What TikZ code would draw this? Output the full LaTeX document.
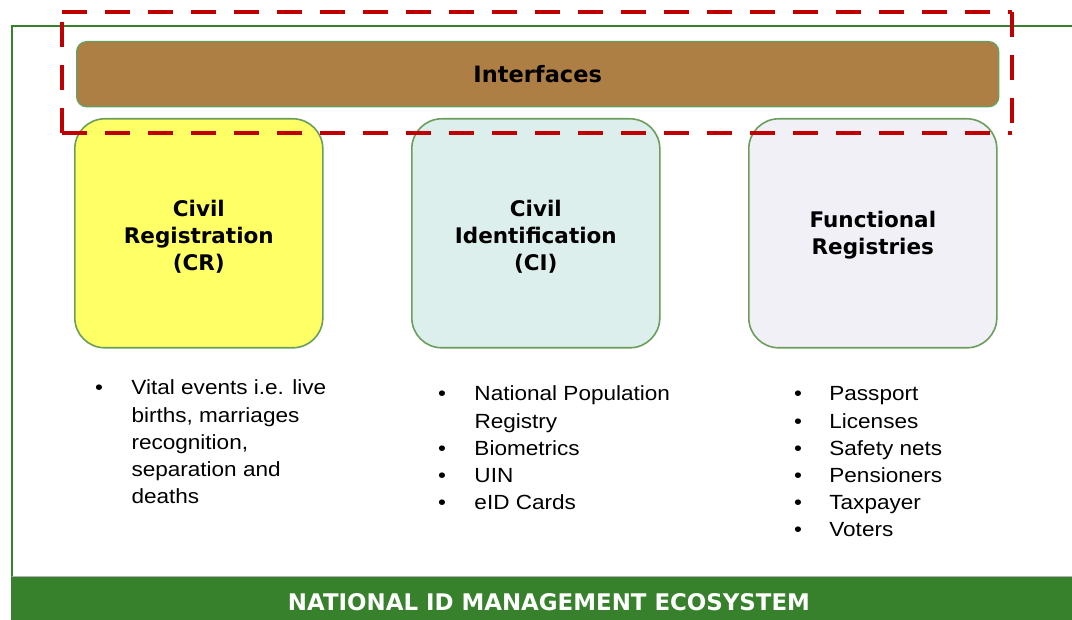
\documentclass[tikz,border=0pt]{standalone}
\usepackage{fontspec}
\setmainfont{Liberation Sans}
\newfontfamily\headfont{DejaVu Sans}
\usepackage{array}
\definecolor{framegreen}{HTML}{38812C}
\definecolor{barbrown}{HTML}{AD7F45}
\definecolor{boxedge}{HTML}{6B9E5D}
\definecolor{dashred}{HTML}{C00000}
\definecolor{crfill}{HTML}{FFFF66}
\definecolor{cifill}{HTML}{DDEFEC}
\definecolor{frfill}{HTML}{F2F0F7}
\newcommand{\bulletlist}[2]{\scalebox{1.1}[1]{\fontsize{20.5}{27.2}\selectfont\begin{tabular}[t]{@{}p{#1}@{}l@{}}#2\end{tabular}}}
\begin{document}
\begin{tikzpicture}[x=1pt,y=-1pt,
  regbox/.style={draw=boxedge,line width=1.6pt,rounded corners=30pt,minimum width=248pt,minimum height=229pt,anchor=north west,inner sep=0pt},
  titletext/.style={font=\headfont\bfseries\fontsize{21.5}{27}\selectfont,align=center,text=black},
  listtext/.style={anchor=base west,inner sep=0pt,text=black},
  redside/.style={dashred,line width=4.5pt,dash pattern=on 25pt off 18pt}]
\useasboundingbox (0,0) rectangle (1072,620);
\fill[white] (0,0) rectangle (1072,620);
% frame
\draw[framegreen,line width=2pt] (1072,26) -- (12,26) -- (12,577);
% bottom bar
\draw[gray!60,line width=1.5pt] (12,576.5) -- (1072,576.5);
\fill[framegreen] (11,577) rectangle (1072,620);
\node (eco) at (549,602) {\resizebox{522pt}{17pt}{\headfont\bfseries\color{white}NATIONAL ID MANAGEMENT ECOSYSTEM}};
% interfaces bar
\node[draw=boxedge,line width=1.4pt,fill=barbrown,rounded corners=10pt,minimum width=922pt,minimum height=65pt,anchor=north west,inner sep=0pt] (intf) at (76,41) {};
\node[font=\headfont\bfseries\fontsize{22.5}{27}\selectfont] (intfl) at (intf.center) {Interfaces};
% boxes
\node[regbox,fill=crfill] (cr) at (74,118) {};
\node[regbox,fill=cifill] (ci) at (411,118) {};
\node[regbox,fill=frfill] (fr) at (748,118) {};
\node[titletext] (crl) at ([yshift=-3pt]cr.center) {Civil\\Registration\\(CR)};
\node[titletext] (cil) at ([yshift=-3pt]ci.center) {Civil\\Identification\\(CI)};
\node[titletext] (frl) at ([yshift=-2pt]fr.center) {Functional\\Registries};
% red dashed highlight
\coordinate (rtl) at (62,12);
\coordinate (rtr) at (1012,12);
\coordinate (rbr) at (1012,133);
\coordinate (rbl) at (62,133);
\draw[redside] (rtl) -- (rtr);
\draw[redside] (rtr) -- (rbr);
\draw[redside] (rbl) -- (rbr);
\draw[redside] (rbl) -- (rtl);
% lists
\node[listtext] (crlist) at (95,395) {\bulletlist{33pt}{\textbullet & Vital events i.e. live\\ & births, marriages\\ & recognition,\\ & separation and\\ & deaths}};
\node[listtext] (cilist) at (438,401) {\bulletlist{33pt}{\textbullet & National Population\\ & Registry\\ \textbullet & Biometrics\\ \textbullet & UIN\\ \textbullet & eID Cards}};
\node[listtext] (frlist) at (794,401) {\bulletlist{32pt}{\textbullet & Passport\\ \textbullet & Licenses\\ \textbullet & Safety nets\\ \textbullet & Pensioners\\ \textbullet & Taxpayer\\ \textbullet & Voters}};
\end{tikzpicture}
\end{document}
